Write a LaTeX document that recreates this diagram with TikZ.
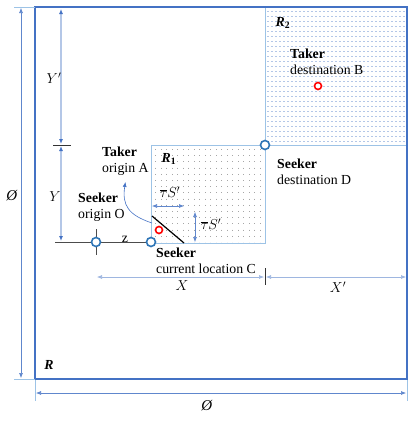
\documentclass[tikz,border=0pt]{standalone}
\usepackage{fontspec}
\setmainfont{Liberation Serif}
\usetikzlibrary{arrows.meta}
\definecolor{rblue}{HTML}{4472C4}
\definecolor{lblue}{HTML}{9DC3E6}
\definecolor{pblue}{HTML}{B4C7E7}
\definecolor{cblue}{HTML}{2E75B6}
\tikzset{
  dimthin/.style={rblue!85, line width=0.6pt, {Latex[length=5pt,width=4pt]}-{Latex[length=5pt,width=4pt]}},
  dimpale/.style={pblue, line width=1.3pt, {Latex[length=5pt,width=4pt,color=rblue]}-{Latex[length=5pt,width=4pt,color=rblue]}},
  extline/.style={lblue, line width=0.6pt},
  seekdot/.style={circle, draw=cblue, line width=1.6pt, fill=white, inner sep=0pt, minimum size=9pt},
  takedot/.style={circle, draw=red, line width=1.6pt, fill=white, inner sep=0pt, minimum size=7pt},
  lbl/.style={anchor=north west, inner sep=0pt, align=left},
}
\newcommand{\tagline}[2]{\textbf{#1}\\#2}
\newcommand{\taustep}{$\overline{\tau}S'$}
\begin{document}
\begin{tikzpicture}[x=1pt, y=-1pt, font=\fontsize{13.8}{16.5}\selectfont]
\useasboundingbox (0,0) rectangle (415,421);
%%%%% START %%%%%
% region R2 (dashed rows)
\foreach \yy in {11,16,...,141}
  \draw[pblue, line width=0.5pt, dash pattern=on 2pt off 2pt] (267,\yy) -- (405,\yy);
\draw[lblue, line width=1pt] (265,7) rectangle (407,145);
% region R1 (dotted columns)
\foreach \xx in {155.5,161,...,262}
  \draw[black!35, line width=0.6pt, dash pattern=on 0.6pt off 5.6pt] (\xx,149) -- (\xx,242);
\draw[lblue, line width=1pt] (151,145) rectangle (265,243);

% outer square R
\draw[rblue, line width=2.5pt] (35,7) rectangle (407,379);
\node[inner sep=0pt] (labR) at (49,365) {\textbf{\textit{R}}};
\node[inner sep=0pt] (labR1) at (169,159) {\textbf{\textit{R}\textsubscript{1}}};
\node[inner sep=0pt] (labR2) at (283,23) {\textbf{\textit{R}\textsubscript{2}}};

% side dimension
\draw[extline] (14,7) -- (35,7);
\draw[extline] (14,379) -- (35,379);
\draw[dimthin] (21,8) -- (21,378);
\node[inner sep=0pt] (phiL) at (12,196) {\fontsize{15}{16}\selectfont\textit{\O}};
% bottom dimension
\draw[extline] (35,380) -- (35,401);
\draw[extline] (407,380) -- (407,401);
\draw[dimthin] (36,393) -- (406,393);
\node[inner sep=0pt] (phiB) at (207,406) {\fontsize{15}{16}\selectfont\textit{\O}};

% Y and Y'
\draw[black!80, line width=0.6pt] (53,145) -- (71,145);
\draw[dimpale] (61,9) -- (61,144);
\draw[dimpale] (61,146) -- (61,241);
\node[inner sep=0pt] (labYp) at (54,78) {$Y'$};
\node[inner sep=0pt] (labY) at (55,197) {$Y$};

% base line through O and C
\draw[black!70, line width=0.8pt] (55,242) -- (151,242);
\draw[black!70, line width=0.6pt] (96,229) -- (96,255);
\node[inner sep=0pt] (labz) at (125,239) {z};

% X and X'
\draw[black!80, line width=0.6pt] (265,268) -- (265,285);
\draw[dimthin, pblue!80!rblue] (97,277) -- (264,277);
\draw[dimthin, pblue!80!rblue] (266,277) -- (406,277);
\node[inner sep=0pt] (labX) at (182,286) {$X$};
\node[inner sep=0pt] (labXp) at (338,287) {$X'$};

% step marks inside R1
\draw[dimthin] (152,206) -- (184,206);
\node[inner sep=0pt] (tauH) at (170,192) {\taustep};
\draw[dimthin] (195,212) -- (195,242);
\node[inner sep=0pt] (tauV) at (211,224) {\taustep};
\draw[black, line width=1.2pt] (152,216) -- (184,243);

% points
\node[seekdot] (O) at (96,242) {};
\node[seekdot] (C) at (151,242) {};
\node[seekdot] (D) at (265,145) {};
\node[takedot] (A) at (159,230) {};
\node[takedot] (B) at (318,86) {};

% labels
\node[lbl] (takerA) at (102,146.5) {\tagline{Taker}{origin A}};
\node[lbl] (seekerO) at (78,192.5) {\tagline{Seeker}{origin O}};
\node[lbl] (seekerC) at (156,247.5) {\tagline{Seeker}{current location C}};
\node[lbl] (seekerD) at (277,158.5) {\tagline{Seeker}{destination D}};
\node[lbl] (takerB) at (290,48.5) {\tagline{Taker}{destination B}};

\coordinate (Astart) at (152,223);
\draw[rblue, line width=0.6pt, -{Latex[length=5pt,width=4pt]}] (Astart) .. controls (128,215) and (122,205) .. ([yshift=-6pt]takerA.south);
%%%%% END %%%%%
\end{tikzpicture}
\end{document}
